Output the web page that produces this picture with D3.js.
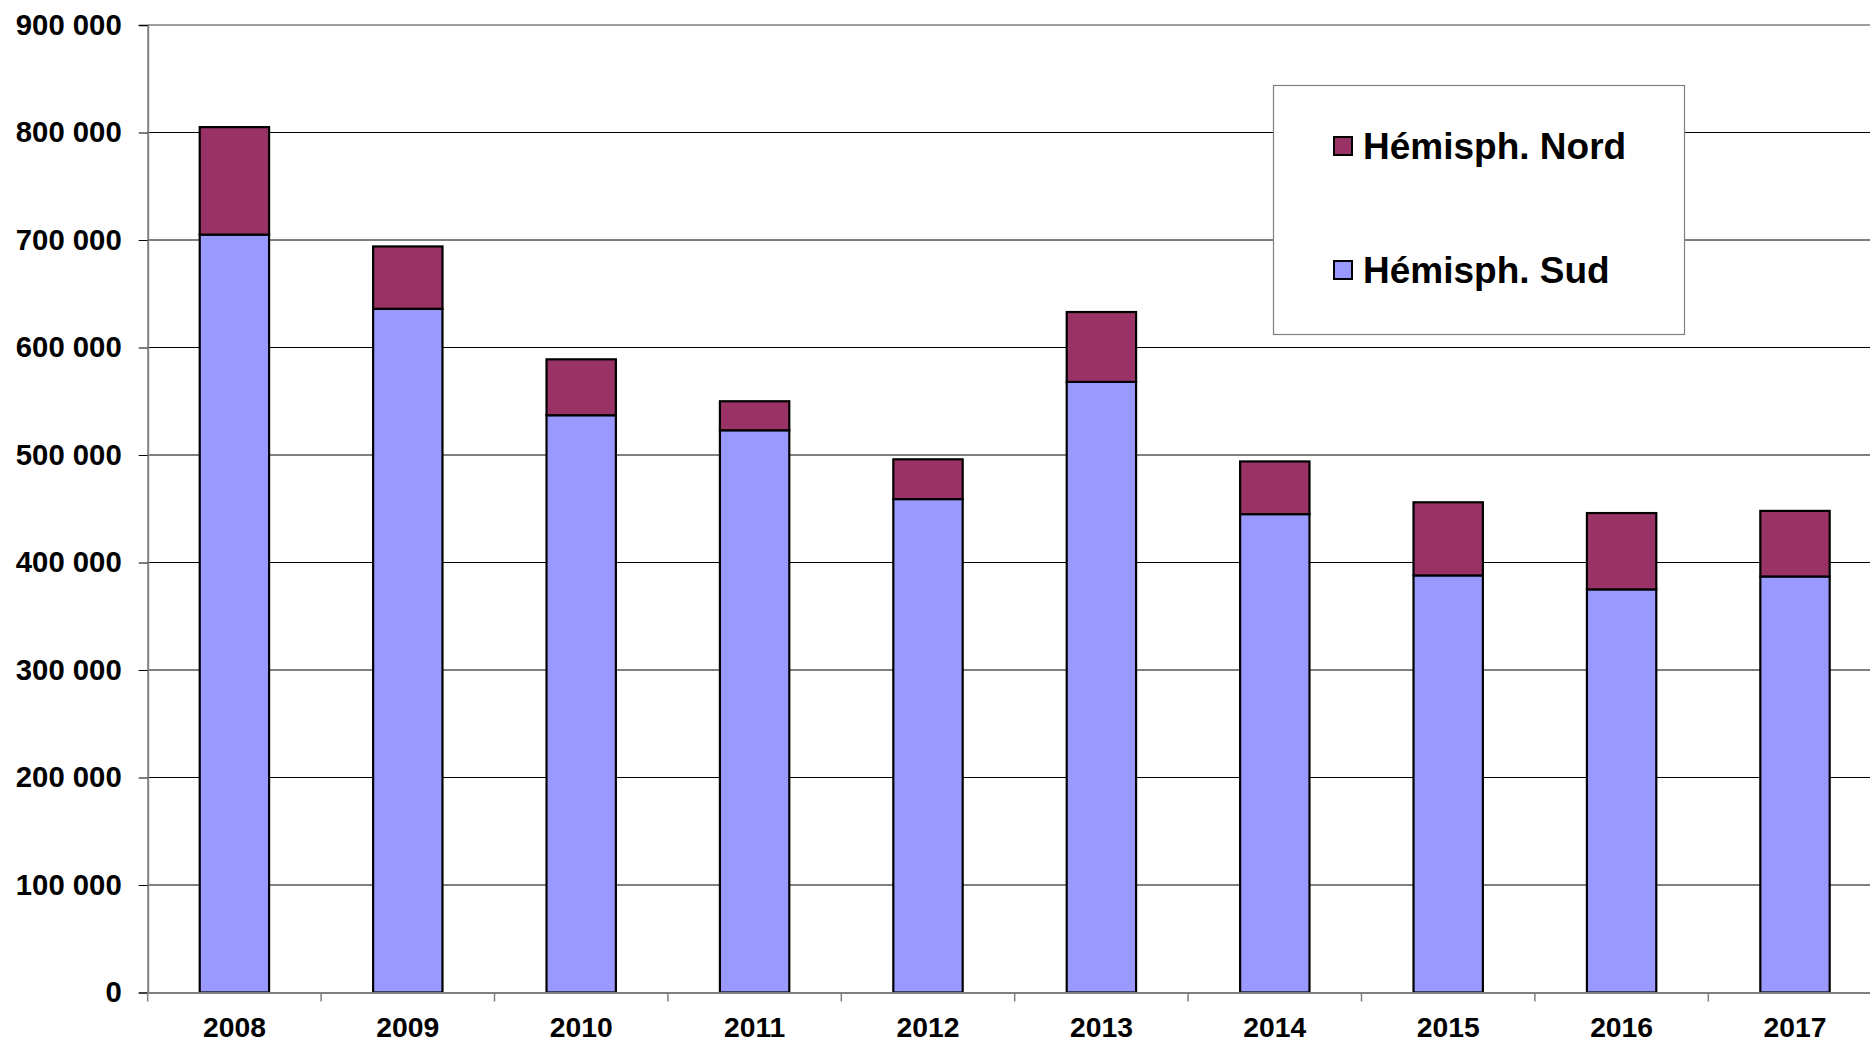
<!DOCTYPE html>
<html>
<head>
<meta charset="utf-8">
<script src="https://cdn.jsdelivr.net/npm/d3@7"></script>
<style>
  html, body { margin: 0; padding: 0; background: #fff; overflow: hidden; }
  svg { display: block; }
  text { font-family: "Liberation Sans", Arial, sans-serif; font-weight: bold; fill: #000; }
</style>
</head>
<body>
<svg id="chart" width="1870" height="1041"></svg>
<script>
const years = ["2008","2009","2010","2011","2012","2013","2014","2015","2016","2017"];
const sud  = [705000, 636000, 537000, 523000, 459000, 568000, 445000, 388000, 375000, 387000];
const nord = [100000,  58000,  52000,  27000,  37000,  65000,  49000,  68000,  71000,  61000];
const seriesNames = ["Hémisph. Sud", "Hémisph. Nord"];
const colors = ["#9999FF", "#993366"];
const yTicks = [0, 100000, 200000, 300000, 400000, 500000, 600000, 700000, 800000, 900000];

(function () {
const svg = d3.select("#chart");
const mLeft = 147.7, mRight = 1881.7, mTop = 25, mBottom = 992.5;

const x = d3.scaleBand().domain(years).range([mLeft, mRight]).padding(0);
const y = d3.scaleLinear().domain([0, 900000]).range([mBottom, mTop]);
const fmt = v => d3.format(",")(v).replace(/,/g, " ");

// gridlines
svg.append("g").selectAll("line")
  .data(yTicks.filter(t => t > 0 && t < 900000))
  .join("line")
  .attr("x1", mLeft).attr("x2", mRight)
  .attr("y1", d => y(d)).attr("y2", d => y(d))
  .attr("stroke", "#000").attr("stroke-width", 1);
// top border
svg.append("line").attr("x1", mLeft).attr("x2", mRight)
  .attr("y1", y(900000)).attr("y2", y(900000))
  .attr("stroke", "#808080").attr("stroke-width", 1.5);

// stacked data
const rows = years.map((yr, i) => ({year: yr, sud: sud[i], nord: nord[i]}));
const stack = d3.stack().keys(["sud", "nord"])(rows);
const bw = x.step() * 0.4;

svg.append("g").selectAll("g")
  .data(stack).join("g")
  .attr("fill", (d, i) => colors[i])
  .selectAll("rect")
  .data(d => d).join("rect")
  .attr("x", d => x(d.data.year) + (x.step() - bw) / 2)
  .attr("width", bw)
  .attr("y", d => y(d[1]))
  .attr("height", d => y(d[0]) - y(d[1]))
  .attr("stroke", "#000").attr("stroke-width", 2.2);

// y axis
const yAxis = d3.axisLeft(y).tickValues(yTicks).tickSize(9).tickPadding(17).tickFormat(fmt);
const gy = svg.append("g").attr("transform", `translate(${mLeft},0)`).call(yAxis);
gy.select(".domain").attr("stroke", "#808080").attr("stroke-width", 2);
gy.selectAll(".tick line").attr("stroke", "#000");
gy.selectAll(".tick text").attr("font-size", 29.3).attr("font-family", "Liberation Sans, Arial, sans-serif").attr("font-weight", "bold").attr("fill", "#000");

// x axis
const gx = svg.append("g").attr("transform", `translate(0,${mBottom})`)
  .call(d3.axisBottom(x).tickSize(0).tickPadding(0));
gx.select(".domain").attr("stroke", "#808080").attr("stroke-width", 2);
gx.selectAll(".tick text").attr("font-size", 28.3).attr("font-family", "Liberation Sans, Arial, sans-serif")
  .attr("font-weight", "bold").attr("fill", "#000").attr("dy", null).attr("y", 44);
// category boundary ticks
svg.append("g").selectAll("line")
  .data(years.concat(["end"]))
  .join("line")
  .attr("x1", (d, i) => mLeft + i * x.step()).attr("x2", (d, i) => mLeft + i * x.step())
  .attr("y1", mBottom).attr("y2", mBottom + 9)
  .attr("stroke", "#808080").attr("stroke-width", 1.5);

// legend
const lg = svg.append("g");
lg.append("rect").attr("x", 1273.5).attr("y", 85.5).attr("width", 411).attr("height", 249)
  .attr("fill", "#fff").attr("stroke", "#808080").attr("stroke-width", 1.2);
const legendItems = [{name: seriesNames[1], color: colors[1], yb: 159},
                     {name: seriesNames[0], color: colors[0], yb: 283}];
legendItems.forEach(it => {
  lg.append("rect").attr("x", 1334).attr("y", it.yb - 22).attr("width", 18).attr("height", 18)
    .attr("fill", it.color).attr("stroke", "#000").attr("stroke-width", 2);
  lg.append("text").attr("x", 1363).attr("y", it.yb).attr("font-size", 37).text(it.name);
});
})();
</script>
</body>
</html>
